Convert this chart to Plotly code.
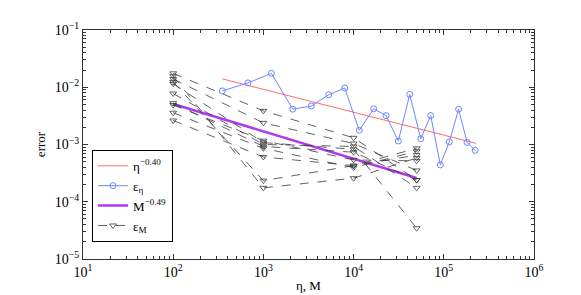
import numpy as np
import plotly.graph_objects as go

# --- data -------------------------------------------------------------
fit_eta_x = [350, 227000]
fit_eta_y = [0.0140, 0.00105]

eta_x = [350, 675, 1225, 2115, 3400, 5300, 7970, 11560, 16700, 22900,
         31300, 41900, 55500, 71600, 91500, 115000, 146000, 181000, 223000]
eta_err = [0.00863, 0.0119, 0.0175, 0.00414, 0.0047, 0.0074, 0.0097, 0.00177,
           0.0042, 0.0032, 0.00115, 0.0075, 0.00126, 0.0032, 0.00044, 0.00111,
           0.00414, 0.00109, 0.00079]

fit_M_x = [100, 50000]
fit_M_y = [0.0051, 0.00026]

M_x = [100, 1000, 10000, 50000]
M_err = [
    [0.0175, 0.00387, 0.00131, 0.000239],
    [0.0156, 0.000175, 0.000258, 0.000582],
    [0.0139, 0.00239, 0.00104, 0.000352],
    [0.0124, 0.000234, 0.000427, 0.000857],
    [0.0115, 0.00108, 0.000824, 0.0000345],
    [0.00778, 0.00100, 0.000925, 0.000175],
    [0.00528, 0.000925, 0.000734, 0.000239],
    [0.00489, 0.00117, 0.000538, 0.000518],
    [0.00359, 0.000857, 0.000395, 0.000762],
    [0.00263, 0.000605, 0.000427, 0.000653],
]

x_tick_vals = [10, 100, 1000, 10000, 100000, 1000000]
x_tick_text = ["10<sup>1</sup>", "10<sup>2</sup>", "10<sup>3</sup>",
               "10<sup>4</sup>", "10<sup>5</sup>", "10<sup>6</sup>"]
y_tick_vals = [1e-5, 1e-4, 1e-3, 1e-2, 1e-1]
y_tick_text = ["10<sup>−5</sup>", "10<sup>−4</sup>", "10<sup>−3</sup>",
               "10<sup>−2</sup>", "10<sup>−1</sup>"]

# --- figure -----------------------------------------------------------
FONT = "Liberation Serif"
fig = go.Figure()

fig.add_trace(go.Scatter(x=fit_eta_x, y=fit_eta_y, mode="lines",
                         line=dict(color="#FF6B6B", width=1),
                         name="η<sup>−0.40</sup>"))
fig.add_trace(go.Scatter(x=eta_x, y=eta_err, mode="lines+markers",
                         line=dict(color="#6F86FF", width=1),
                         marker=dict(symbol="circle-open", size=6, color="#6F86FF",
                                     line=dict(width=1)),
                         name="ε<sub>η</sub>"))
fig.add_trace(go.Scatter(x=fit_M_x, y=fit_M_y, mode="lines",
                         line=dict(color="#B038F0", width=2.5),
                         name="M<sup>−0.49</sup>"))
for i, s in enumerate(M_err):
    fig.add_trace(go.Scatter(x=M_x, y=s, mode="lines+markers",
                             line=dict(color="#3a3a3a", width=0.8, dash="dash"),
                             marker=dict(symbol="triangle-down-open", size=6,
                                         color="#3a3a3a", line=dict(width=0.8)),
                             name="ε<sub>M</sub>", legendgroup="M",
                             showlegend=(i == 0)))

def minor_vals(lo, hi):
    out = []
    for e in range(lo, hi):
        for d in range(2, 10):
            out.append(d * 10.0 ** e)
    return out

axis_common = dict(type="log", showgrid=False, zeroline=False,
                   showline=True, linecolor="#333333", linewidth=1,
                   mirror="allticks", ticks="inside", ticklen=5,
                   tickcolor="#333333", tickwidth=1,
                   tickfont=dict(family=FONT, size=14, color="black"))

fig.update_xaxes(**axis_common, range=[1, 6], tickmode="array",
                 tickvals=x_tick_vals, ticktext=x_tick_text,
                 minor=dict(tickmode="array", tickvals=minor_vals(1, 6),
                            ticks="inside", ticklen=3, tickcolor="#333333",
                            showgrid=False),
                 title=dict(text="η, M", font=dict(family=FONT, size=13),
                            standoff=2))
fig.update_yaxes(**axis_common, range=[-5, -1], tickmode="array",
                 tickvals=y_tick_vals, ticktext=y_tick_text,
                 minor=dict(tickmode="array", tickvals=minor_vals(-5, -1),
                            ticks="inside", ticklen=3, tickcolor="#333333",
                            showgrid=False),
                 title=dict(text="error", font=dict(family=FONT, size=13),
                            standoff=6))

fig.update_layout(
    width=581, height=295,
    margin=dict(l=75, r=55, t=22, b=35),
    plot_bgcolor="white", paper_bgcolor="white",
    font=dict(family=FONT, size=13, color="black"),
    legend=dict(x=0.02, y=0.075, xanchor="left", yanchor="bottom",
                bgcolor="white", bordercolor="black", borderwidth=1,
                font=dict(family=FONT, size=13), tracegroupgap=0,
                itemwidth=30),
)

fig.write_html("out.html")
